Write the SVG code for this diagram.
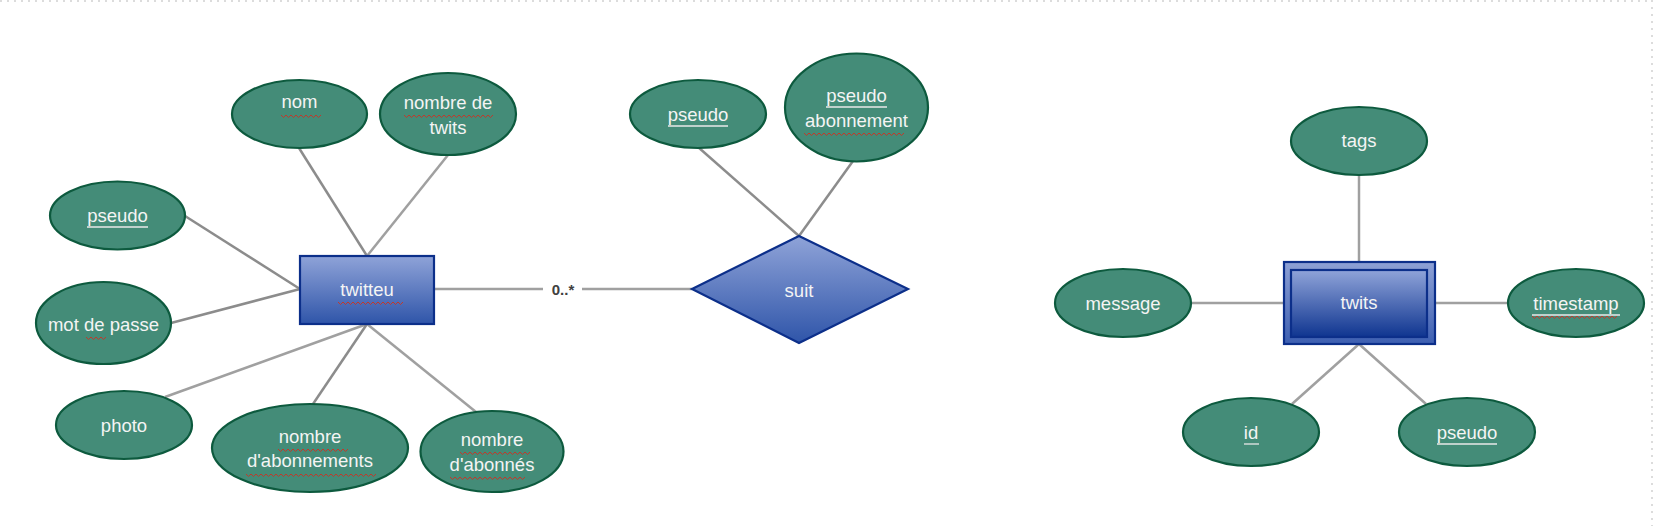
<svg xmlns="http://www.w3.org/2000/svg" width="1653" height="526" viewBox="0 0 1653 526">
<defs>
<linearGradient id="gBox" x1="0" y1="0" x2="0" y2="1">
<stop offset="0" stop-color="#8fa3d8"/>
<stop offset="1" stop-color="#2f55a9"/>
</linearGradient>
<linearGradient id="gOuter" x1="0" y1="0" x2="0" y2="1">
<stop offset="0" stop-color="#8ea1d5"/>
<stop offset="1" stop-color="#3d5fb1"/>
</linearGradient>
<linearGradient id="gInner" x1="0" y1="0" x2="0" y2="1">
<stop offset="0" stop-color="#90a4d9"/>
<stop offset="1" stop-color="#0f3590"/>
</linearGradient>
<style>
.att{fill:#448c78;stroke:#0d5a3e;stroke-width:2.2}
.ent{stroke:#0c2f8a;stroke-width:2.2}
.t{font-family:"Liberation Sans",Arial,sans-serif;font-size:18.5px;fill:#f4f4f4;text-anchor:middle}
.ul{stroke:#e8e8e8;stroke-width:1.3}
.sq{fill:none;stroke:#c0392b;stroke-width:1}
.c{stroke:#8c8c8c;stroke-width:2.5;fill:none}
.c2{stroke:#a0a0a0;stroke-width:2.5;fill:none}
.lbl{font-family:"Liberation Sans",Arial,sans-serif;font-size:15px;font-weight:bold;fill:#404040;text-anchor:middle}
.pg{stroke:#dcdcdc;stroke-width:2;stroke-dasharray:2,5;fill:none}
</style>
</defs>
<path class="pg" d="M0 1 H1653 M1652 0 V526"/>
<g id="connectors">
<line class="c" x1="367" y1="256" x2="299" y2="148"/>
<line class="c2" x1="367" y1="256" x2="448" y2="155"/>
<line class="c" x1="300" y1="289" x2="185" y2="216"/>
<line class="c" x1="300" y1="289" x2="171" y2="323"/>
<line class="c2" x1="367" y1="324" x2="165" y2="397"/>
<line class="c" x1="367" y1="324" x2="313" y2="404"/>
<line class="c2" x1="367" y1="324" x2="476" y2="412"/>
<line class="c2" x1="434" y1="289" x2="543" y2="289"/>
<line class="c2" x1="582" y1="289" x2="692" y2="289"/>
<text class="lbl" x="563" y="295">0..*</text>
<line class="c" x1="799" y1="236" x2="698" y2="147"/>
<line class="c" x1="799" y1="236" x2="853" y2="161"/>
<line class="c2" x1="1359" y1="175" x2="1359" y2="263"/>
<line class="c2" x1="1191" y1="303" x2="1284" y2="303"/>
<line class="c2" x1="1507" y1="303" x2="1435" y2="303"/>
<line class="c2" x1="1359" y1="344" x2="1292" y2="404"/>
<line class="c2" x1="1359" y1="344" x2="1426" y2="404"/>
</g>
<g id="twitteu">
<rect class="ent" x="300" y="256" width="134" height="68" fill="url(#gBox)"/>
<text class="t" x="367" y="296">twitteu</text>
<path class="sq" d="M338 302 l2.5 2.5 2.5-2.5 2.5 2.5 2.5-2.5 2.5 2.5 2.5-2.5 2.5 2.5 2.5-2.5 2.5 2.5 2.5-2.5 2.5 2.5 2.5-2.5 2.5 2.5 2.5-2.5 2.5 2.5 2.5-2.5 2.5 2.5 2.5-2.5 2.5 2.5 2.5-2.5 2.5 2.5 2.5-2.5 2.5 2.5 2.5-2.5 2.5 2.5 2.5-2.5"/>
</g>
<g id="nom">
<ellipse class="att" cx="299.5" cy="114" rx="67.5" ry="34"/>
<text class="t" x="299.5" y="108">nom</text>
<path class="sq" d="M281 115 l2.5 2.5 2.5-2.5 2.5 2.5 2.5-2.5 2.5 2.5 2.5-2.5 2.5 2.5 2.5-2.5 2.5 2.5 2.5-2.5 2.5 2.5 2.5-2.5 2.5 2.5 2.5-2.5 2.5 2.5 2.5-2.5"/>
</g>
<g id="nombre_de_twits">
<ellipse class="att" cx="448" cy="114" rx="68" ry="41"/>
<text class="t" x="448" y="109">nombre de</text>
<text class="t" x="448" y="134">twits</text>
<path class="sq" d="M404 115 l2.5 2.5 2.5-2.5 2.5 2.5 2.5-2.5 2.5 2.5 2.5-2.5 2.5 2.5 2.5-2.5 2.5 2.5 2.5-2.5 2.5 2.5 2.5-2.5 2.5 2.5 2.5-2.5 2.5 2.5 2.5-2.5 2.5 2.5 2.5-2.5 2.5 2.5 2.5-2.5 2.5 2.5 2.5-2.5 2.5 2.5 2.5-2.5 2.5 2.5 2.5-2.5 2.5 2.5 2.5-2.5 M473 115 l2.5 2.5 2.5-2.5 2.5 2.5 2.5-2.5 2.5 2.5 2.5-2.5 2.5 2.5 2.5-2.5"/>
</g>
<g id="pseudo_twitteu">
<ellipse class="att" cx="117.5" cy="215.5" rx="67.5" ry="34"/>
<text class="t" x="117.5" y="222">pseudo</text>
<line class="ul" x1="87" y1="227" x2="148" y2="227"/>
</g>
<g id="mot_de_passe">
<ellipse class="att" cx="103.5" cy="323" rx="67.5" ry="41"/>
<text class="t" x="103.5" y="331">mot de passe</text>
<path class="sq" d="M86 337 l2.5 2.5 2.5-2.5 2.5 2.5 2.5-2.5 2.5 2.5 2.5-2.5 2.5 2.5 2.5-2.5"/>
</g>
<g id="photo">
<ellipse class="att" cx="124" cy="425" rx="68" ry="34"/>
<text class="t" x="124" y="432">photo</text>
</g>
<g id="nombre_abonnements">
<ellipse class="att" cx="310" cy="448" rx="98" ry="44"/>
<text class="t" x="310" y="443">nombre</text>
<text class="t" x="310" y="467">d'abonnements</text>
<path class="sq" d="M278 449 l2.5 2.5 2.5-2.5 2.5 2.5 2.5-2.5 2.5 2.5 2.5-2.5 2.5 2.5 2.5-2.5 2.5 2.5 2.5-2.5 2.5 2.5 2.5-2.5 2.5 2.5 2.5-2.5 2.5 2.5 2.5-2.5 2.5 2.5 2.5-2.5 2.5 2.5 2.5-2.5 2.5 2.5 2.5-2.5 2.5 2.5 2.5-2.5 2.5 2.5 2.5-2.5 2.5 2.5 2.5-2.5 M246 474 l2.5 2.5 2.5-2.5 2.5 2.5 2.5-2.5 2.5 2.5 2.5-2.5 2.5 2.5 2.5-2.5 2.5 2.5 2.5-2.5 2.5 2.5 2.5-2.5 2.5 2.5 2.5-2.5 2.5 2.5 2.5-2.5 2.5 2.5 2.5-2.5 2.5 2.5 2.5-2.5 2.5 2.5 2.5-2.5 2.5 2.5 2.5-2.5 2.5 2.5 2.5-2.5 2.5 2.5 2.5-2.5 2.5 2.5 2.5-2.5 2.5 2.5 2.5-2.5 2.5 2.5 2.5-2.5 2.5 2.5 2.5-2.5 2.5 2.5 2.5-2.5 2.5 2.5 2.5-2.5 2.5 2.5 2.5-2.5 2.5 2.5 2.5-2.5 2.5 2.5 2.5-2.5 2.5 2.5 2.5-2.5 2.5 2.5 2.5-2.5 2.5 2.5 2.5-2.5"/>
</g>
<g id="nombre_abonnes">
<ellipse class="att" cx="492" cy="451.5" rx="71.5" ry="40.5"/>
<text class="t" x="492" y="446">nombre</text>
<text class="t" x="492" y="471">d'abonnés</text>
<path class="sq" d="M460 452 l2.5 2.5 2.5-2.5 2.5 2.5 2.5-2.5 2.5 2.5 2.5-2.5 2.5 2.5 2.5-2.5 2.5 2.5 2.5-2.5 2.5 2.5 2.5-2.5 2.5 2.5 2.5-2.5 2.5 2.5 2.5-2.5 2.5 2.5 2.5-2.5 2.5 2.5 2.5-2.5 2.5 2.5 2.5-2.5 2.5 2.5 2.5-2.5 2.5 2.5 2.5-2.5 2.5 2.5 2.5-2.5 M450 477 l2.5 2.5 2.5-2.5 2.5 2.5 2.5-2.5 2.5 2.5 2.5-2.5 2.5 2.5 2.5-2.5 2.5 2.5 2.5-2.5 2.5 2.5 2.5-2.5 2.5 2.5 2.5-2.5 2.5 2.5 2.5-2.5 2.5 2.5 2.5-2.5 2.5 2.5 2.5-2.5 2.5 2.5 2.5-2.5 2.5 2.5 2.5-2.5 2.5 2.5 2.5-2.5 2.5 2.5 2.5-2.5 2.5 2.5 2.5-2.5"/>
</g>
<g id="suit">
<polygon class="ent" points="692,289 799,236 908,289 799,343" fill="url(#gBox)"/>
<text class="t" x="799" y="297">suit</text>
</g>
<g id="pseudo_suit">
<ellipse class="att" cx="698" cy="114" rx="68" ry="34"/>
<text class="t" x="698" y="121">pseudo</text>
<line class="ul" x1="668" y1="126" x2="728" y2="126"/>
</g>
<g id="pseudo_abonnement">
<ellipse class="att" cx="856.5" cy="107.5" rx="71.5" ry="54"/>
<text class="t" x="856.5" y="102">pseudo</text>
<text class="t" x="856.5" y="127">abonnement</text>
<line class="ul" x1="826" y1="107" x2="887" y2="107"/>
<path class="sq" d="M804 133 l2.5 2.5 2.5-2.5 2.5 2.5 2.5-2.5 2.5 2.5 2.5-2.5 2.5 2.5 2.5-2.5 2.5 2.5 2.5-2.5 2.5 2.5 2.5-2.5 2.5 2.5 2.5-2.5 2.5 2.5 2.5-2.5 2.5 2.5 2.5-2.5 2.5 2.5 2.5-2.5 2.5 2.5 2.5-2.5 2.5 2.5 2.5-2.5 2.5 2.5 2.5-2.5 2.5 2.5 2.5-2.5 2.5 2.5 2.5-2.5 2.5 2.5 2.5-2.5 2.5 2.5 2.5-2.5 2.5 2.5 2.5-2.5 2.5 2.5 2.5-2.5 2.5 2.5 2.5-2.5"/>
</g>
<g id="twits">
<rect class="ent" x="1284" y="262" width="151" height="82" fill="url(#gOuter)"/>
<rect class="ent" x="1291" y="270" width="136" height="67" fill="url(#gInner)"/>
<text class="t" x="1359" y="309">twits</text>
</g>
<g id="tags">
<ellipse class="att" cx="1359" cy="141" rx="68" ry="34"/>
<text class="t" x="1359" y="147">tags</text>
</g>
<g id="message">
<ellipse class="att" cx="1123" cy="303" rx="68" ry="34"/>
<text class="t" x="1123" y="310">message</text>
</g>
<g id="timestamp">
<ellipse class="att" cx="1576" cy="303" rx="68" ry="34"/>
<text class="t" x="1576" y="310">timestamp</text>
<line class="ul" x1="1532" y1="315" x2="1620" y2="315"/>
<path class="sq" d="M1532 316 l2.5 2.5 2.5-2.5 2.5 2.5 2.5-2.5 2.5 2.5 2.5-2.5 2.5 2.5 2.5-2.5 2.5 2.5 2.5-2.5 2.5 2.5 2.5-2.5 2.5 2.5 2.5-2.5 2.5 2.5 2.5-2.5 2.5 2.5 2.5-2.5 2.5 2.5 2.5-2.5 2.5 2.5 2.5-2.5 2.5 2.5 2.5-2.5 2.5 2.5 2.5-2.5 2.5 2.5 2.5-2.5 2.5 2.5 2.5-2.5 2.5 2.5 2.5-2.5 2.5 2.5 2.5-2.5"/>
</g>
<g id="id">
<ellipse class="att" cx="1251" cy="432" rx="68" ry="34"/>
<text class="t" x="1251" y="439">id</text>
<line class="ul" x1="1244" y1="444" x2="1259" y2="444"/>
</g>
<g id="pseudo_twits">
<ellipse class="att" cx="1467" cy="432" rx="68" ry="34"/>
<text class="t" x="1467" y="439">pseudo</text>
<line class="ul" x1="1437" y1="444" x2="1497" y2="444"/>
</g>
</svg>
